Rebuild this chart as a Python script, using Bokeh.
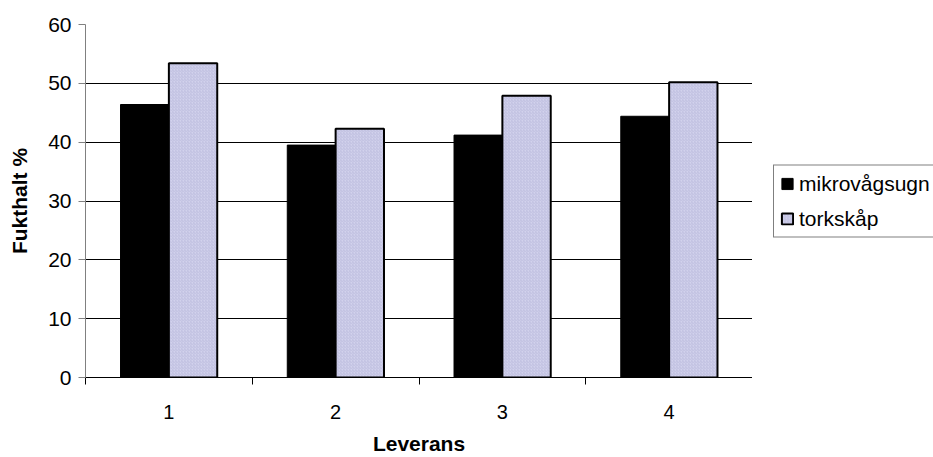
from bokeh.plotting import figure
from bokeh.layouts import row
from bokeh.models import Range1d, FixedTicker, Legend, LegendItem
from bokeh.embed import file_html
from bokeh.resources import INLINE

# Moisture content per delivery, measured with two drying methods
deliveries = ["1", "2", "3", "4"]
microwave = [46.4, 39.5, 41.2, 44.4]
drying_cabinet = [53.4, 42.3, 47.9, 50.2]
series_names = ["mikrovågsugn", "torkskåp"]
y_ticks = [0, 10, 20, 30, 40, 50, 60]

FONT = "Liberation Sans"
positions = [i + 1 for i in range(len(deliveries))]
bar_w = 0.29
offset = 0.145
HEIGHT, TOP, BOTTOM = 457, 24, 78

BLACK_BAR = dict(fill_color="black", line_color="black", line_width=1)
LIGHT_BAR = dict(fill_color="#d2d2ec", line_color="black", line_width=2,
                 hatch_pattern="/", hatch_color="#b4b4d8", hatch_scale=3,
                 hatch_weight=0.6)

p = figure(width=752, height=HEIGHT, output_backend="svg", toolbar_location=None,
           x_range=Range1d(0.5, len(deliveries) + 0.5), y_range=Range1d(0, 60),
           min_border_left=85, min_border_right=0, min_border_top=TOP,
           min_border_bottom=BOTTOM, outline_line_color=None,
           background_fill_color="white", border_fill_color="white")

p.vbar(x=[x - offset for x in positions], top=microwave, width=bar_w, **BLACK_BAR)
p.vbar(x=[x + offset for x in positions], top=drying_cabinet, width=bar_w, **LIGHT_BAR)

# grid
p.xgrid.visible = False
p.ygrid.ticker = FixedTicker(ticks=y_ticks[1:-1])
p.ygrid.grid_line_color = "black"
p.ygrid.grid_line_width = 1

# x axis: labels at category centres, tick marks between categories
xa = p.xaxis[0]
xa.ticker = FixedTicker(ticks=positions,
                        minor_ticks=[x - 0.5 for x in positions] + [positions[-1] + 0.5])
xa.major_label_overrides = {pos: lab for pos, lab in zip(positions, deliveries)}
xa.major_tick_out = 0
xa.major_tick_in = 0
xa.minor_tick_out = 7
xa.minor_tick_in = 0
xa.minor_tick_line_color = "black"
xa.axis_line_color = "black"
xa.major_label_standoff = 20
xa.major_label_text_font = FONT
xa.major_label_text_font_size = "20px"
xa.major_label_text_color = "black"
xa.axis_label = "Leverans"
xa.axis_label_text_font = FONT
xa.axis_label_text_font_size = "21px"
xa.axis_label_text_font_style = "bold"
xa.axis_label_text_color = "black"
xa.axis_label_standoff = 10

ya = p.yaxis[0]
ya.ticker = FixedTicker(ticks=y_ticks)
ya.minor_tick_line_color = None
ya.major_tick_out = 7
ya.major_tick_in = 0
ya.major_tick_line_color = "#808080"
ya.axis_line_color = "#808080"
ya.major_label_standoff = 7
ya.major_label_text_font = FONT
ya.major_label_text_font_size = "21px"
ya.major_label_text_color = "black"
ya.axis_label = "Fukthalt %"
ya.axis_label_text_font = FONT
ya.axis_label_text_font_size = "21px"
ya.axis_label_text_font_style = "bold"
ya.axis_label_text_color = "black"
ya.axis_label_standoff = 14

# legend panel to the right of the chart; its frame spans the same rows as
# the chart's frame so the legend box sits centred on the plot area
lg = figure(width=181, height=HEIGHT, output_backend="svg", toolbar_location=None,
            x_range=Range1d(-1, 0), y_range=Range1d(-1, 0),
            min_border_left=0, min_border_right=0, min_border_top=TOP,
            min_border_bottom=BOTTOM, outline_line_color=None,
            background_fill_color="white", border_fill_color="white")
lg.axis.visible = False
lg.grid.visible = False
# key renderers carry the series data but lie outside this panel's ranges
k1 = lg.vbar(x=positions, top=microwave, width=bar_w, **BLACK_BAR)
k2 = lg.vbar(x=positions, top=drying_cabinet, width=bar_w, **LIGHT_BAR)

legend = Legend(items=[LegendItem(label=series_names[0], renderers=[k1]),
                       LegendItem(label=series_names[1], renderers=[k2])],
                location="center_left", orientation="vertical",
                border_line_color="black", border_line_width=1,
                background_fill_color="white", background_fill_alpha=1,
                padding=6, spacing=11, margin=21,
                label_height=22, glyph_height=14, glyph_width=14,
                label_standoff=5, label_text_font=FONT,
                label_text_font_size="21px", label_text_color="black")
lg.add_layout(legend)

layout = row(p, lg, spacing=0)
open("out.html", "w").write(file_html(layout, INLINE))
